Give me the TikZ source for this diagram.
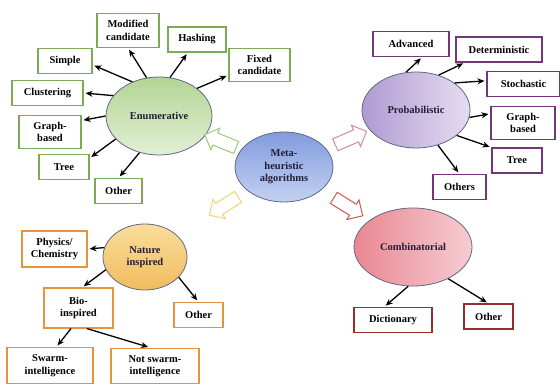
\documentclass[tikz,border=0pt]{standalone}
\usepackage{fontspec}
\setmainfont{Liberation Serif}
\usetikzlibrary{arrows.meta,shapes.geometric,shapes.arrows}

\definecolor{enumline}{RGB}{125,170,85}
\definecolor{probline}{RGB}{115,55,120}
\definecolor{natline}{RGB}{232,145,65}
\definecolor{combline}{RGB}{150,45,45}
\definecolor{blobline}{RGB}{95,105,130}
\definecolor{blobtext}{RGB}{35,30,55}
\definecolor{fatgreen}{RGB}{160,200,120}
\definecolor{fatpink}{RGB}{210,140,160}
\definecolor{fatyellow}{RGB}{245,210,120}
\definecolor{fatred}{RGB}{200,90,80}
\definecolor{metaA}{RGB}{130,155,222}
\definecolor{metaB}{RGB}{195,210,242}
\definecolor{enumA}{RGB}{180,212,150}
\definecolor{enumB}{RGB}{225,240,212}
\definecolor{probA}{RGB}{175,155,210}
\definecolor{probB}{RGB}{230,220,240}
\definecolor{natA}{RGB}{250,222,155}
\definecolor{natB}{RGB}{240,188,95}
\definecolor{combA}{RGB}{234,135,145}
\definecolor{combB}{RGB}{245,205,210}

\tikzset{
  box/.style={draw, line width=1.1pt, fill=white, align=center,
    inner xsep=4pt, inner ysep=7pt, minimum height=25},
  blob/.style={ellipse, draw=blobline, line width=0.8pt, inner sep=0pt,
    align=center, text=blobtext},
  link/.style={-{Stealth[length=7pt,width=6pt]}, line width=1.3pt, shorten >=2pt},
  fat/.style={single arrow, draw=#1, line width=1pt, fill=white,
    minimum height=34, inner sep=6pt, single arrow head extend=5pt,
    sloped, allow upside down},
}

\begin{document}
\begin{tikzpicture}[x=1pt, y=-1pt, font=\fontsize{10.5}{12.5}\selectfont\bfseries]
\useasboundingbox (0,0) rectangle (560,387);

\node[blob, minimum width=98, minimum height=70,
  top color=metaA, bottom color=metaB] (meta) at (284,167)
{Meta-\\heuristic\\algorithms};

\node[blob, minimum width=106, minimum height=78,
  top color=enumA, bottom color=enumB] (enum) at (159,116)
{Enumerative};

\node[blob, minimum width=108, minimum height=76,
  left color=probA, right color=probB] (prob) at (416,110)
{Probabilistic};

\node[blob, minimum width=84, minimum height=66,
  top color=natA, bottom color=natB] (nature) at (145,257)
{Nature\\inspired};

\node[blob, minimum width=118, minimum height=78,
  left color=combA, right color=combB] (comb) at (413,247)
{Combinatorial};

\node[box, draw=enumline, minimum width=62] (mod) at (128,30.5) {Modified\\candidate};
\node[box, draw=enumline, minimum width=58] (hash) at (197,39.5) {Hashing};
\node[box, draw=enumline, minimum width=61] (fixed) at (259.5,65) {Fixed\\candidate};
\node[box, draw=enumline, minimum width=54] (simple) at (65,61) {Simple};
\node[box, draw=enumline, minimum width=71] (clust) at (47.5,93) {Clustering};
\node[box, draw=enumline, minimum width=62] (graphA) at (50,132) {Graph-\\based};
\node[box, draw=enumline, minimum width=50] (treeA) at (64,167) {Tree};
\node[box, draw=enumline, minimum width=47] (otherA) at (118.5,191) {Other};

\node[box, draw=probline, minimum width=76] (adv) at (411,44) {Advanced};
\node[box, draw=probline, minimum width=86] (det) at (499,49.5) {Deterministic};
\node[box, draw=probline, minimum width=73] (stoch) at (523.5,84) {Stochastic};
\node[box, draw=probline, minimum width=64] (graphB) at (523,123) {Graph-\\based};
\node[box, draw=probline, minimum width=50] (treeB) at (517,160.5) {Tree};
\node[box, draw=probline, minimum width=53] (others) at (459.5,187) {Others};

\node[box, draw=natline, minimum width=65] (phys) at (54.5,249) {Physics/\\Chemistry};
\node[box, draw=natline, minimum width=69, minimum height=40] (bio) at (78.5,308) {Bio-\\inspired};
\node[box, draw=natline, minimum width=49] (otherC) at (198.5,315) {Other};
\node[box, draw=natline, minimum width=86] (swarm) at (50,365.5) {Swarm-\\intelligence};
\node[box, draw=natline, minimum width=88] (notswarm) at (155,366) {Not swarm-\\intelligence};

\node[box, draw=combline, minimum width=78] (dict) at (393,320) {Dictionary};
\node[box, draw=combline, minimum width=49] (otherD) at (488.5,316.5) {Other};

\path (meta) -- node[fat=fatgreen] (toenum) {} (enum);
\path (meta) -- node[fat=fatpink] (toprob) {} (prob);
\path (meta) -- node[fat=fatyellow, pos=0.3] (tonat) {} (nature);
\path (meta) -- node[fat=fatred] (tocomb) {} (comb);

\draw[link] (enum.108) -- (mod.south);
\draw[link] (enum.74) -- (hash.-125);
\draw[link] (enum.36) -- (fixed.198);
\draw[link] (enum.128) -- (simple.-8);
\draw[link] (enum.156) -- (clust.east);
\draw[link] (enum.west) -- (graphA.20);
\draw[link] (enum.208) -- (treeA.19);
\draw[link] (enum.242) -- (otherA.north);

\draw[link] (prob.105) -- (adv.-49);
\draw[link] (prob.57) -- (det.201);
\draw[link] (prob.35) -- (stoch.175);
\draw[link] (prob.-8) -- (graphB.164);
\draw[link] (prob.-32) -- (treeB.north west);
\draw[link] (prob.-58) -- (others.north);

\draw[link] (nature.167) -- (phys.east);
\draw[link] (nature.198) -- (bio.80);
\draw[link] (nature.-31) -- (otherC.north);
\draw[link] (bio.-110) -- (swarm.71);
\draw[link] (bio.-68) -- (notswarm.105);

\draw[link] (comb.-97) -- (dict.124);
\draw[link] (comb.-42) -- (otherD.north);

\end{tikzpicture}
\end{document}
